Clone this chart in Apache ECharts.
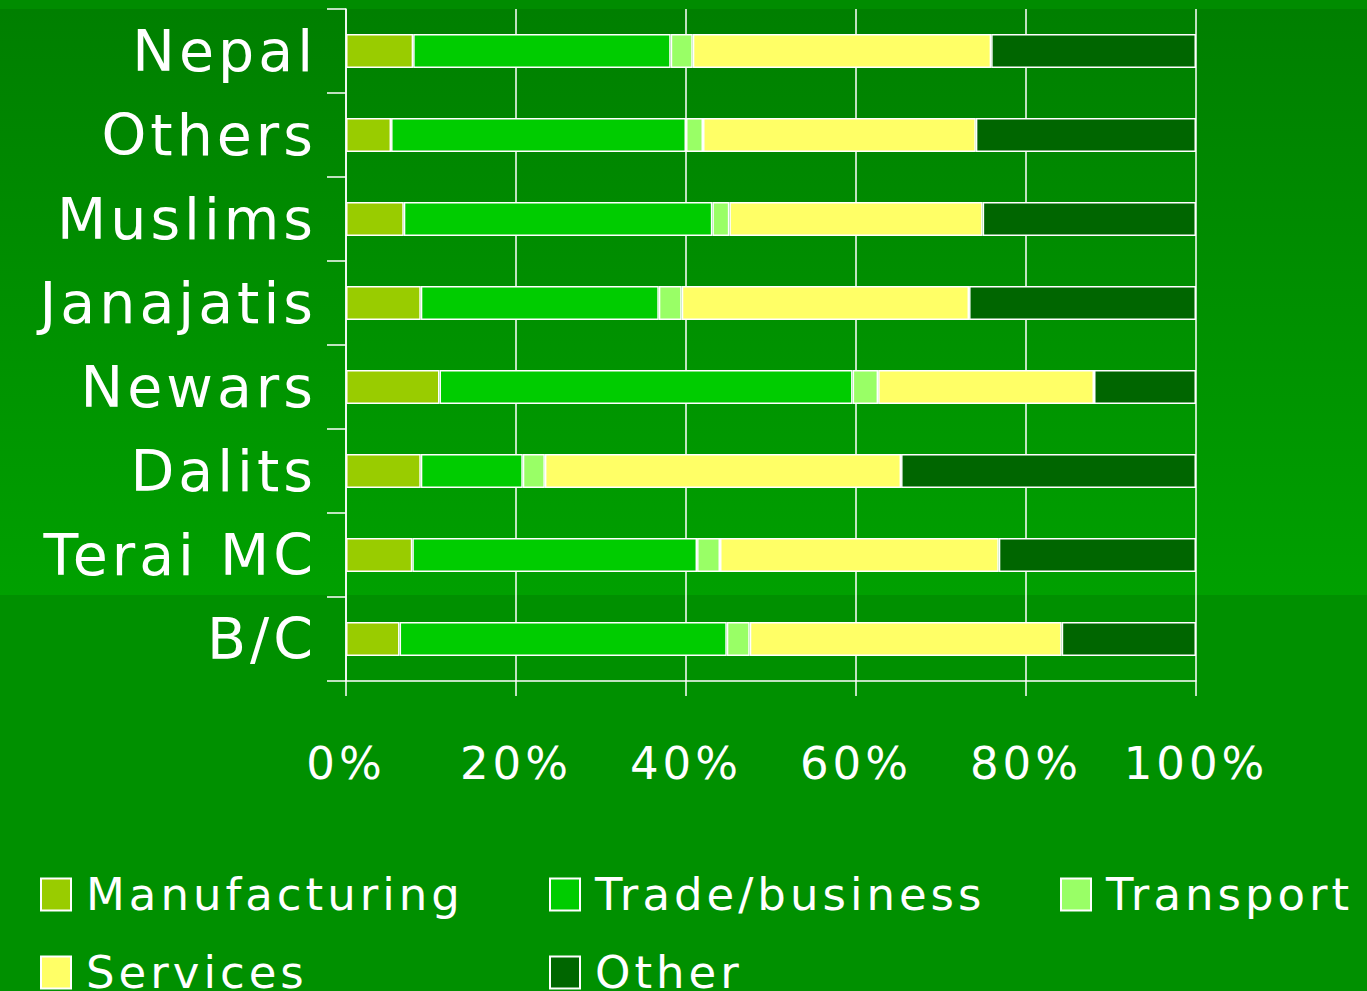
<!DOCTYPE html>
<html>
<head>
<meta charset="utf-8">
<script src="https://cdn.jsdelivr.net/npm/echarts@6/dist/echarts.min.js"></script>
<style>
  html, body { margin: 0; padding: 0; background: #009000; }
  #chart { width: 1367px; height: 991px; }
  #chart text { letter-spacing: 4px; }
</style>
</head>
<body>
<div id="chart"></div>
<script>
const categories = ["Nepal", "Others", "Muslims", "Janajatis", "Newars", "Dalits", "Terai MC", "B/C"];

const manufacturing = [7.9, 5.3, 6.8, 8.8, 11.0, 8.8, 7.8, 6.3];
const tradeBusiness = [30.3, 34.7, 36.3, 28.0, 48.6, 12.0, 33.5, 38.5];
const transport = [2.6, 2.0, 2.0, 2.7, 3.0, 2.6, 2.7, 2.7];
const services = [35.1, 32.1, 29.8, 33.8, 25.4, 41.9, 32.8, 36.7];
const other = [24.1, 25.9, 25.1, 26.7, 12.0, 34.7, 23.2, 15.8];

const font = "DejaVu Sans";

const chart = echarts.init(document.getElementById("chart"), null, { renderer: "svg" });

const barSeries = (name, data, color) => ({
  name: name,
  type: "bar",
  stack: "total",
  data: data,
  barWidth: 34,
  itemStyle: {
    color: color,
    borderColor: "#fff",
    borderWidth: 1.5,
  },
});

// one vertical legend per column, so the items line up in a grid
const legendColumn = (left, names) => ({
  orient: "vertical",
  left: left,
  top: 867,
  height: 200,
  itemWidth: 30,
  itemHeight: 32,
  itemGap: 33,
  icon: "rect",
  selectedMode: false,
  data: names,
  textStyle: {
    color: "#fff",
    fontSize: 45,
    fontFamily: font,
    lineHeight: 40,
    padding: [0, 0, 0, 10],
  },
});

const option = {
  backgroundColor: "#009000",
  animation: false,
  graphic: [
    {
      type: "rect",
      z: -10,
      shape: { x: 0, y: 0, width: 1367, height: 9 },
      style: { fill: "#008c00" },
    },
    {
      type: "rect",
      z: -10,
      shape: { x: 0, y: 9, width: 1367, height: 586 },
      style: {
        fill: {
          type: "linear",
          x: 0, y: 0, x2: 0, y2: 1,
          colorStops: [
            { offset: 0, color: "#007f00" },
            { offset: 1, color: "#00a000" },
          ],
        },
      },
    },
  ],
  grid: {
    left: 346,
    right: 171,
    top: 9,
    bottom: 310,
  },
  xAxis: {
    type: "value",
    min: 0,
    max: 100,
    interval: 20,
    axisLine: { show: true, lineStyle: { color: "#fff", width: 1.5 } },
    axisTick: { show: true, length: 15, lineStyle: { color: "#fff", width: 1.5 } },
    splitLine: { show: true, lineStyle: { color: "#fff", width: 1.5 } },
    axisLabel: {
      formatter: "{value}%",
      color: "#fff",
      fontSize: 45,
      fontFamily: font,
      margin: 60,
    },
  },
  yAxis: {
    type: "category",
    data: categories,
    inverse: true,
    axisLine: { show: true, lineStyle: { color: "#fff", width: 1.5 } },
    axisTick: { show: true, length: 19, lineStyle: { color: "#fff", width: 1.5 } },
    axisLabel: {
      color: "#fff",
      fontSize: 57,
      fontFamily: font,
      margin: 29,
    },
  },
  legend: [
    legendColumn(35, ["Manufacturing", "Services"]),
    legendColumn(544, ["Trade/business", "Other"]),
    legendColumn(1055, ["Transport"]),
  ],
  series: [
    barSeries("Manufacturing", manufacturing, "#99cc00"),
    barSeries("Trade/business", tradeBusiness, "#00cc00"),
    barSeries("Transport", transport, "#99ff66"),
    barSeries("Services", services, "#ffff66"),
    barSeries("Other", other, "#006600"),
  ],
};

chart.setOption(option);
</script>
</body>
</html>
